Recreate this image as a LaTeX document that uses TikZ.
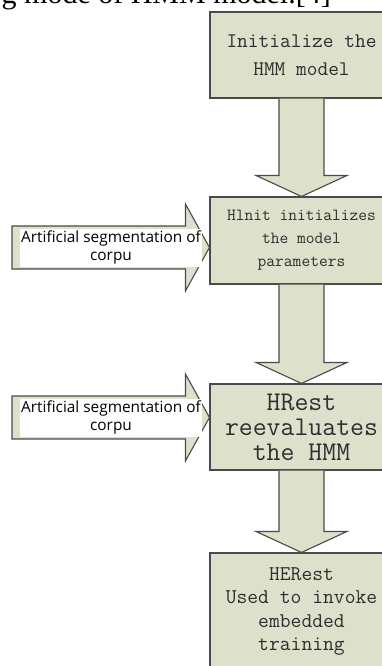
\documentclass[tikz,border=0pt]{standalone}
\usepackage{fontspec}
\setmainfont{Liberation Serif}
\newfontfamily\labfont{Open Sans}
\usetikzlibrary{calc}
\definecolor{boxfill}{HTML}{DDE0CB}
\definecolor{edge}{HTML}{4A4A4A}
\definecolor{txt}{HTML}{2E2E2E}
\tikzset{
 stepbox/.style={draw=edge, fill=boxfill, line width=1.1pt, minimum width=183pt, align=center, text=txt, inner sep=0pt},
 barrow/.style={draw=edge, fill=boxfill, line width=1.1pt, line join=miter},
 lab/.style={fill=white, minimum width=182pt, minimum height=38pt, align=center, inner sep=0pt, font=\labfont\fontsize{15.4}{18}\selectfont}
}
\newcommand\blockdown[2]{\draw[barrow] let \p1=(#1.south), \p2=(#2.north) in
 (\x1-22.5pt,\y1) -- (\x1-22.5pt,\y2+21pt) -- (\x1-45.5pt,\y2+21pt) -- (\x1,\y2)
 -- (\x1+45.5pt,\y2+21pt) -- (\x1+22.5pt,\y2+21pt) -- (\x1+22.5pt,\y1);}
\newcommand\blockright[2]{\draw[barrow] let \p1=(#1), \p2=(#2) in
 (\x1,\y1+21.5pt) -- (\x2-24pt,\y1+21.5pt) -- (\x2-24pt,\y1+43.5pt) -- (\x2,\y1)
 -- (\x2-24pt,\y1-43.5pt) -- (\x2-24pt,\y1-21.5pt) -- (\x1,\y1-21.5pt) -- cycle;}
\begin{document}
\begin{tikzpicture}[x=1pt,y=1pt]
\useasboundingbox (0,0) rectangle (382,-666);
\begin{scope}
\clip (0,0) rectangle (382,-666);
\node[anchor=base east, inner sep=0pt, font=\fontsize{30}{30}\selectfont] (cap) at (331,-3.5) {g mode of HMM model.[4]};
\node[stepbox, minimum height=86pt, font=\ttfamily\fontsize{20.8}{28}\selectfont] (b1) at (301.5,-55) {Initialize the\\HMM model};
\node[stepbox, minimum height=87pt, font=\ttfamily\fontsize{17}{23}\selectfont] (b2) at (301.5,-240.5) {Hlnit initializes\\the model\\parameters};
\node[stepbox, minimum height=86pt, font=\ttfamily\fontsize{27}{25}\selectfont] (b3) at (301.5,-427) {HRest\\reevaluates\\the HMM};
\node[stepbox, minimum height=117pt, font=\ttfamily\fontsize{21}{23.5}\selectfont] (b4) at (301.5,-611.5) {HERest\\Used to invoke\\embedded\\training};
\blockdown{b1}{b2}
\blockdown{b2}{b3}
\blockdown{b3}{b4}
\coordinate (s1) at (12,-247.5);
\coordinate (s2) at (12,-417.5);
\blockright{s1}{s1 -| b2.west}
\blockright{s2}{s2 -| b3.west}
\node[lab] (l1) at (111,-247.5) {Artificial segmentation of\\corpu};
\node[lab] (l2) at (111,-417.5) {Artificial segmentation of\\corpu};
\end{scope}
\end{tikzpicture}
\end{document}
